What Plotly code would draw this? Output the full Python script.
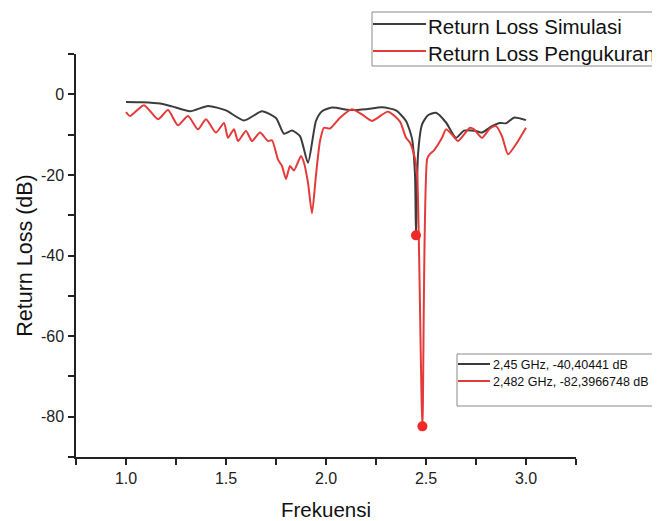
import plotly.graph_objects as go

# Simulated return loss (black)
sim_freq = [1.00, 1.08, 1.17, 1.23, 1.32, 1.41, 1.50, 1.59, 1.68, 1.75, 1.79, 1.83, 1.87,
            1.91, 1.95, 1.98, 2.03, 2.12, 2.20, 2.28, 2.35, 2.40, 2.43, 2.445, 2.45, 2.46,
            2.48, 2.51, 2.55, 2.60, 2.65, 2.69, 2.75, 2.78, 2.83, 2.87, 2.90, 2.94, 3.00]
sim_rl = [-1.9, -2.0, -2.3, -3.0, -4.2, -2.9, -4.0, -6.5, -4.2, -5.9, -9.8, -9.0, -10.4,
          -17.0, -6.6, -4.2, -3.3, -3.9, -3.7, -3.2, -4.0, -6.6, -11.0, -20.0, -35.0, -15.0,
          -7.5, -5.2, -4.6, -7.0, -10.8, -9.0, -9.1, -9.5, -7.9, -7.1, -7.2, -5.8, -6.4]

# Measured return loss (red)
meas_freq = [1.00, 1.02, 1.09, 1.16, 1.21, 1.26, 1.31, 1.36, 1.40, 1.45, 1.49, 1.51, 1.54,
             1.56, 1.60, 1.63, 1.67, 1.71, 1.73, 1.76, 1.78, 1.80, 1.82, 1.84, 1.875, 1.89,
             1.91, 1.93, 1.95, 1.97, 1.99, 2.02, 2.07, 2.13, 2.18, 2.23, 2.31, 2.37, 2.40,
             2.42, 2.445, 2.456, 2.482, 2.506, 2.52, 2.54, 2.58, 2.60, 2.63, 2.66, 2.72,
             2.74, 2.78, 2.82, 2.85, 2.88, 2.91, 2.95, 3.00]
meas_rl = [-4.4, -5.4, -2.7, -6.2, -3.9, -7.7, -5.4, -8.7, -6.2, -9.5, -7.1, -10.8, -8.7,
           -11.6, -9.1, -11.6, -9.5, -11.6, -11.4, -16.2, -17.8, -21.0, -17.8, -18.9, -15.3, -17.0,
           -22.0, -29.5, -20.0, -11.6, -8.3, -8.5, -5.8, -3.7, -5.0, -6.6, -4.3, -6.8, -10.8,
           -12.0, -16.0, -20.0, -82.4, -16.0, -14.8, -13.9, -10.8, -8.7, -10.0, -11.6, -8.3,
           -8.7, -10.8, -8.5, -7.9, -10.4, -14.9, -12.4, -8.3]

# Marked resonance points
peak_freq = [2.45, 2.482]
peak_rl = [-35.0, -82.4]
peak_labels = ["2,45 GHz, -40,40441 dB", "2,482 GHz, -82,3966748 dB"]

series_names = ["Return Loss Simulasi", "Return Loss Pengukuran"]
x_ticks = [1.0, 1.5, 2.0, 2.5, 3.0]
y_ticks = [0, -20, -40, -60, -80]

BLACK = "#3c3c3c"
RED = "#e53a3a"
FONT = "Liberation Sans, Arial, sans-serif"

# page layout (the page body adds an 8 px offset)
BODY = 8
W, H = 660 - BODY, 521 - BODY
PL, PR, PT, PB = 76, 576, 54, 457  # plot area in page pixels


def px(x):
    return (x - PL) / (PR - PL)


def py(y):
    return (PB - y) / (PB - PT)


fig = go.Figure()
fig.add_trace(go.Scatter(x=sim_freq, y=sim_rl, mode="lines", name=series_names[0],
                         line=dict(color=BLACK, width=2, shape="spline", smoothing=0.6),
                         showlegend=False))
fig.add_trace(go.Scatter(x=meas_freq, y=meas_rl, mode="lines", name=series_names[1],
                         line=dict(color=RED, width=2, shape="spline", smoothing=0.6),
                         showlegend=False))
fig.add_trace(go.Scatter(x=peak_freq, y=peak_rl, mode="markers", showlegend=False,
                         marker=dict(color="#f02828", size=10)))

shapes = []
annotations = []


def legend_box(x0, y0, y1, rows, font_size, line_x0, line_x1, text_x):
    shapes.append(dict(type="rect", xref="paper", yref="paper",
                       x0=px(x0), x1=px(700), y0=py(y1), y1=py(y0),
                       line=dict(color="#8a8a8a", width=1), fillcolor="white", layer="above"))
    for (label, color, ly, ty) in rows:
        shapes.append(dict(type="line", xref="paper", yref="paper",
                           x0=px(line_x0), x1=px(line_x1), y0=py(ly), y1=py(ly),
                           line=dict(color=color, width=2), layer="above"))
        annotations.append(dict(xref="paper", yref="paper", x=px(text_x), y=py(ty),
                                xanchor="left", yanchor="middle", showarrow=False,
                                borderpad=0,
                                text=label, font=dict(size=font_size, family=FONT, color="#111111")))


legend_box(372, 12, 66,
           [(series_names[0], BLACK, 24, 26), (series_names[1], RED, 51, 53)],
           20.5, 373, 426, 427)
legend_box(457, 354, 406,
           [(peak_labels[0], BLACK, 364, 365), (peak_labels[1], RED, 381, 382)],
           12.5, 458, 490, 492)

fig.update_layout(
    width=W, height=H,
    paper_bgcolor="white", plot_bgcolor="white",
    margin=dict(l=PL - BODY, r=W - (PR - BODY), t=PT - BODY, b=H - (PB - BODY), autoexpand=False),
    font=dict(family=FONT, color="#222222"),
    showlegend=False,
    shapes=shapes,
    annotations=annotations,
    xaxis=dict(range=[0.75, 3.25], tickvals=x_ticks, ticktext=[f"{v:.1f}" for v in x_ticks],
               showgrid=False, zeroline=False, showline=True, linecolor="#222222", linewidth=1.5,
               ticks="outside", ticklen=6, tickcolor="#222222", tickwidth=1.5,
               minor=dict(dtick=0.25, tick0=0.75, ticks="outside", ticklen=6,
                          tickcolor="#222222", tickwidth=1.5, showgrid=False),
               tickfont=dict(size=16, family=FONT, color="#222222"),
               title=dict(text="Frekuensi", font=dict(size=20.5, family=FONT, color="#111111"),
                          standoff=26)),
    yaxis=dict(range=[-90, 10], tickvals=y_ticks, ticktext=[str(v) for v in y_ticks],
               showgrid=False, zeroline=False, showline=True, linecolor="#222222", linewidth=1.5,
               ticks="outside", ticklen=6, tickcolor="#222222", tickwidth=1.5,
               ticklabelstandoff=1,
               minor=dict(dtick=10, tick0=0, ticks="outside", ticklen=6,
                          tickcolor="#222222", tickwidth=1.5, showgrid=False),
               tickfont=dict(size=16, family=FONT, color="#222222"),
               title=dict(text="Return Loss (dB)", font=dict(size=21.5, family=FONT, color="#111111"),
                          standoff=2)),
)

fig.write_html("out.html")
